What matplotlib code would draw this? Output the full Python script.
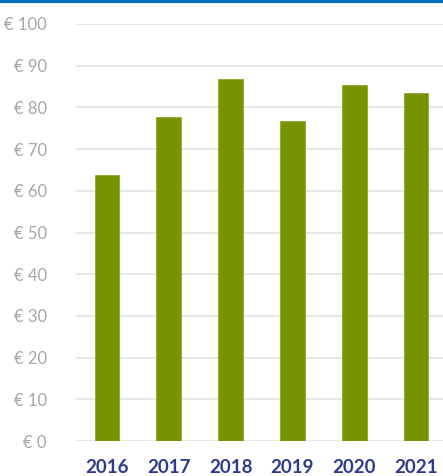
import matplotlib
matplotlib.use('Agg')
import matplotlib.pyplot as plt
from matplotlib.lines import Line2D

years = ['2016', '2017', '2018', '2019', '2020', '2021']
prices = [63.8, 77.8, 86.8, 76.7, 85.4, 83.4]
yticks = [0, 10, 20, 30, 40, 50, 60, 70, 80, 90, 100]

plt.rcParams['font.family'] = ['Lato', 'DejaVu Sans']

fig = plt.figure(figsize=(4.43, 4.76), dpi=100)
ax = fig.add_axes([76 / 443, 1 - 441 / 476, 371 / 443, 417 / 476])

ax.bar(range(len(years)), prices, width=0.4, color='#759400', edgecolor='#8fac2a', linewidth=0.6, zorder=3)

ax.set_ylim(0, 100)
ax.set_xlim(-0.5, len(years) - 0.5)
ax.set_yticks(yticks)
ax.set_yticklabels(['€ %d' % v for v in yticks], color='#a6a6a6', fontsize=12)
ax.set_xticks(range(len(years)))
ax.set_xticklabels(years, color='#2e3a8c', fontsize=13.5, fontweight='bold')
ax.tick_params(axis='both', length=0)
ax.tick_params(axis='y', pad=21)
ax.tick_params(axis='x', pad=13)
ax.grid(axis='y', color='#e3e3e3', linewidth=1.2, zorder=0)
for s in ax.spines.values():
    s.set_visible(False)

# blue rule along the top edge
fig.add_artist(Line2D([0, 1], [0.998, 0.998], color='#0070c0', linewidth=3, transform=fig.transFigure))

fig.savefig('out.png', dpi=100)
